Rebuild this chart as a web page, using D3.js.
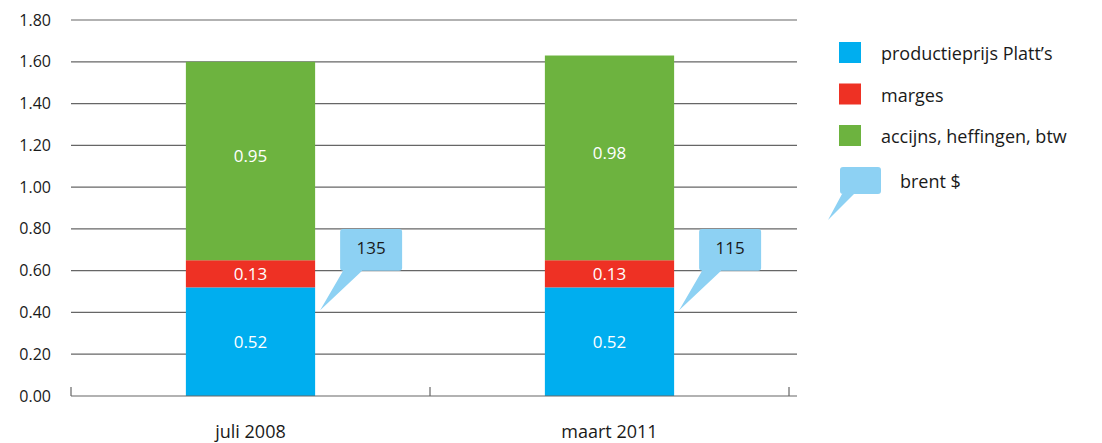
<!DOCTYPE html>
<html>
<head>
<meta charset="utf-8">
<script src="https://cdn.jsdelivr.net/npm/d3@7"></script>
<style>
  body { margin: 0; background: #fff; }
  text { font-family: "Open Sans", "Noto Sans", sans-serif; fill: #1a1a1a; }
</style>
</head>
<body>
<div class="chart"></div>
<script>
// data
var periods = ["juli 2008", "maart 2011"];
var productie = [0.52, 0.52];
var marges = [0.13, 0.13];
var accijns = [0.95, 0.98];
var brent = [135, 115];
var seriesNames = ["productieprijs Platt\u2019s", "marges", "accijns, heffingen, btw"];
var seriesColors = ["#00aeef", "#ee3124", "#6db33f"];
var yTicks = [0, 0.2, 0.4, 0.6, 0.8, 1.0, 1.2, 1.4, 1.6, 1.8];

var svgWidth = 1102, svgHeight = 443;

var svg = d3.select(".chart").append("svg")
  .attr("width", svgWidth)
  .attr("height", svgHeight);

var x = d3.scaleBand().domain(periods).range([71, 789]).padding(0);
var y = d3.scaleLinear().domain([0, 1.8]).range([396, 20]);
var barW = x.bandwidth() * 0.36;

// gridlines
svg.append("g").selectAll("line")
  .data(yTicks.slice(1))
  .enter().append("line")
  .attr("x1", 71).attr("x2", 797)
  .attr("y1", d => y(d)).attr("y2", d => y(d))
  .attr("stroke", "#666").attr("stroke-width", 1.2);

// y labels
svg.append("g").selectAll("text")
  .data(yTicks)
  .enter().append("text")
  .attr("x", 51).attr("y", d => y(d))
  .attr("dy", "0.35em")
  .attr("text-anchor", "end")
  .style("font-size", "16px")
  .text(d => d3.format(".2f")(d));

// stacked bars
var stackRows = periods.map((p, i) => ({ period: p, a: productie[i], b: marges[i], c: accijns[i] }));
var stacked = d3.stack().keys(["a", "b", "c"])(stackRows);

stacked.forEach(function (layer, li) {
  var g = svg.append("g");
  g.selectAll("rect")
    .data(layer)
    .enter().append("rect")
    .attr("x", d => x(d.data.period) + (x.bandwidth() - barW) / 2)
    .attr("width", barW)
    .attr("y", d => y(d[1]))
    .attr("height", d => y(d[0]) - y(d[1]))
    .attr("fill", seriesColors[li]);
  g.selectAll("text")
    .data(layer)
    .enter().append("text")
    .attr("x", d => x(d.data.period) + x.bandwidth() / 2)
    .attr("y", d => (y(d[0]) + y(d[1])) / 2 - (li === 2 ? 5 : 0))
    .attr("dy", "0.35em")
    .attr("text-anchor", "middle")
    .style("fill", "#fff")
    .style("font-size", "17px")
    .text(d => d3.format(".2f")(d[1] - d[0]));
});

// bottom axis line + ticks
var axisG = svg.append("g");
axisG.append("line")
  .attr("x1", 71).attr("x2", 797)
  .attr("y1", y(0)).attr("y2", y(0))
  .attr("stroke", "#666").attr("stroke-width", 1.2);
axisG.selectAll("line.tick")
  .data([71, x(periods[1]), x(periods[1]) + x.bandwidth()])
  .enter().append("line")
  .attr("class", "tick")
  .attr("x1", d => d).attr("x2", d => d)
  .attr("y1", y(0)).attr("y2", y(0) - 9)
  .attr("stroke", "#666").attr("stroke-width", 1.2);
axisG.selectAll("text")
  .data(periods)
  .enter().append("text")
  .attr("x", d => x(d) + x.bandwidth() / 2)
  .attr("y", 432)
  .attr("dy", "0.35em")
  .attr("text-anchor", "middle")
  .style("font-size", "18px")
  .text(d => d);

// callout shape: box with tail to (tx, ty)
function calloutPath(bx, by, bw, bh, tx, ty, t0, t1) {
  var r = 3;
  return "M" + (bx + r) + "," + by +
    "H" + (bx + bw - r) + "Q" + (bx + bw) + "," + by + " " + (bx + bw) + "," + (by + r) +
    "V" + (by + bh - r) + "Q" + (bx + bw) + "," + (by + bh) + " " + (bx + bw - r) + "," + (by + bh) +
    "H" + (bx + t1) + "L" + tx + "," + ty + "L" + (bx + t0) + "," + (by + bh) +
    "H" + (bx + r) + "Q" + bx + "," + (by + bh) + " " + bx + "," + (by + bh - r) +
    "V" + (by + r) + "Q" + bx + "," + by + " " + (bx + r) + "," + by + "Z";
}

var calloutColor = "#8dd1f3";
periods.forEach(function (p, i) {
  var barRight = x(p) + (x.bandwidth() + barW) / 2;
  var bx = barRight + 25, by = y(0.8), bw = 62, bh = y(0.6) - y(0.8);
  svg.append("path")
    .attr("d", calloutPath(bx, by, bw, bh, barRight + 5, y(0.41), 3, 22))
    .attr("fill", calloutColor);
  svg.append("text")
    .attr("x", bx + bw / 2).attr("y", by + 19)
    .attr("dy", "0.35em")
    .attr("text-anchor", "middle")
    .style("font-size", "17px")
    .text(brent[i]);
});

// legend
var legend = svg.append("g");
seriesNames.forEach(function (name, i) {
  var cy = 53 + i * 41.5;
  legend.append("rect")
    .attr("x", 839).attr("y", cy - 11)
    .attr("width", 22).attr("height", 21)
    .attr("fill", seriesColors[i]);
  legend.append("text")
    .attr("x", 881).attr("y", cy + 1)
    .attr("dy", "0.35em")
    .style("font-size", "18px")
    .text(name);
});
legend.append("path")
  .attr("d", calloutPath(840, 167, 41, 27, 828, 220, 2, 14))
  .attr("fill", calloutColor);
legend.append("text")
  .attr("x", 900).attr("y", 182)
  .attr("dy", "0.35em")
  .style("font-size", "18px")
  .text("brent $");
</script>
</body>
</html>
